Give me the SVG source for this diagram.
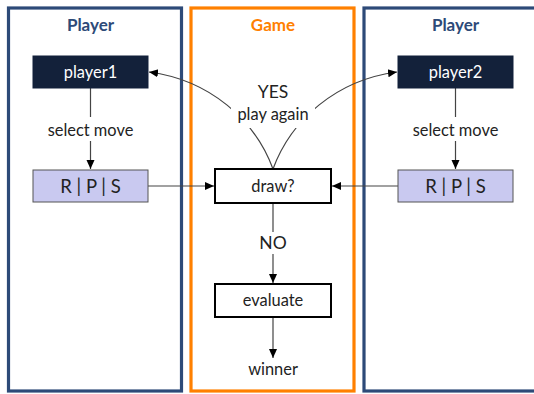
<svg xmlns="http://www.w3.org/2000/svg" width="534" height="394" viewBox="0 0 534 394">
<defs>
<style>
text{font-family:Lato,"Open Sans","DejaVu Sans",sans-serif;text-anchor:middle;fill:#222}
.lane{fill:none;stroke-width:3.2}
.pl{stroke:#2d4a78}
.gm{stroke:#ff8000}
.title{font-weight:bold;font-size:17px}
.lbl{font-size:16.4px}
.big{font-size:17.5px}
.conn{fill:none;stroke:#444;stroke-width:1.2}
.dark{fill:#13213a;stroke:#13213a}
.rps{fill:#c9c9f0;stroke:#555;stroke-width:1}
.dec{fill:#fff;stroke:#000;stroke-width:2}
</style>
<marker id="ah" markerUnits="userSpaceOnUse" markerWidth="10" markerHeight="10" viewBox="0 0 10 10" refX="9" refY="5" orient="auto">
<path d="M0,1 L9,5 L0,9 Z" fill="#000"/>
</marker>
</defs>
<rect width="534" height="394" fill="#fff"/>
<g id="lane-player1">
<rect class="lane pl" x="8.5" y="8" width="173" height="383"/>
<text class="title" x="90.5" y="31" style="fill:#2d4a78">Player</text>
</g>
<g id="lane-game">
<rect class="lane gm" x="191" y="8" width="163" height="383"/>
<text class="title" x="273" y="31" style="fill:#ff8000">Game</text>
</g>
<g id="lane-player2">
<rect class="lane pl" x="364" y="8" width="190" height="383"/>
<text class="title" x="455.5" y="31" style="fill:#2d4a78">Player</text>
</g>
<g id="connectors">
<path class="conn" d="M90.5,88 V117"/>
<path class="conn" d="M90.5,141 V169" marker-end="url(#ah)"/>
<path class="conn" d="M455.5,88 V117"/>
<path class="conn" d="M455.5,141 V169" marker-end="url(#ah)"/>
<path class="conn" d="M148,186 H214" marker-end="url(#ah)"/>
<path class="conn" d="M398,186 H332" marker-end="url(#ah)"/>
<path class="conn" d="M273,203 V232"/>
<path class="conn" d="M273,254 V283" marker-end="url(#ah)"/>
<path class="conn" d="M273,317 V358" marker-end="url(#ah)"/>
<path class="conn" d="M273,169 C255,120 210,80 149,72" marker-end="url(#ah)"/>
<path class="conn" d="M273,169 C291,120 336,80 397,72" marker-end="url(#ah)"/>
<rect x="231" y="80" width="84" height="48" fill="#fff"/>
</g>
<g id="label-select1"><text class="lbl" x="90.5" y="135.5">select move</text></g>
<g id="label-select2"><text class="lbl" x="455.5" y="135.5">select move</text></g>
<g id="label-yes"><text class="big" x="273" y="98">YES</text><text class="lbl" x="273" y="119.5">play again</text></g>
<g id="label-no"><text class="big" x="273" y="249">NO</text></g>
<g id="player1"><rect class="dark" x="33" y="56" width="115" height="32"/><text class="lbl" x="90.5" y="77.5" style="fill:#fff">player1</text></g>
<g id="player2"><rect class="dark" x="398" y="56" width="115" height="32"/><text class="lbl" x="455.5" y="77.5" style="fill:#fff">player2</text></g>
<g id="rps1"><rect class="rps" x="33" y="170" width="115" height="32"/><text x="90.5" y="192.5" style="font-size:18.5px">R | P | S</text></g>
<g id="rps2"><rect class="rps" x="398" y="170" width="115" height="32"/><text x="455.5" y="192.5" style="font-size:18.5px">R | P | S</text></g>
<g id="draw"><rect class="dec" x="215" y="169" width="116" height="34"/><text class="lbl" x="273" y="191.5">draw?</text></g>
<g id="evaluate"><rect class="dec" x="215" y="284" width="116" height="33"/><text class="lbl" x="273" y="306">evaluate</text></g>
<g id="winner"><text class="lbl" x="273" y="375">winner</text></g>
</svg>
